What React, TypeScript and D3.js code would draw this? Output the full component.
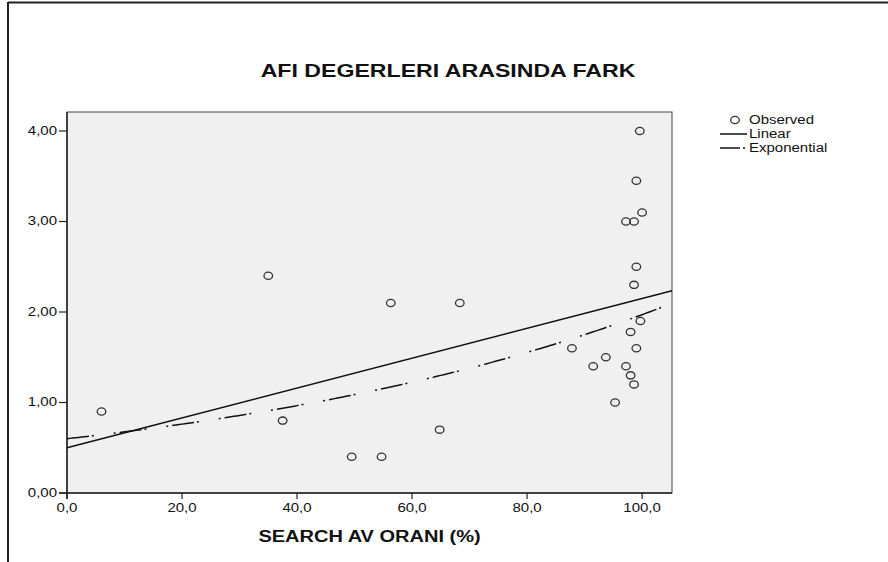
import React, { useEffect, useRef } from "react";
import * as d3 from "d3";

// values
const searchAv = [6.0, 35.0, 37.5, 49.5, 54.7, 56.3, 64.8, 68.3, 87.8, 91.5, 93.7, 95.3, 97.2, 97.2, 98.0, 98.0, 98.6, 98.6, 98.6, 99.0, 99.0, 99.0, 99.6, 99.7, 100.0];
const afiFark = [0.9, 2.4, 0.8, 0.4, 0.4, 2.1, 0.7, 2.1, 1.6, 1.4, 1.5, 1.0, 3.0, 1.4, 1.78, 1.3, 3.0, 2.3, 1.2, 3.45, 2.5, 1.6, 4.0, 1.9, 3.1];
const xTicks = [0, 20, 40, 60, 80, 100];
const yTicks = [0, 1, 2, 3, 4];
const legendLabels = ["Observed", "Linear", "Exponential"];

// fitted curve coefficients
const linearFit = { a: 0.5, b: 0.0165 };
const expFit = { a: 0.6, b: 0.01189 };

const fmt = (d: number, n: number) => d.toFixed(n).replace(".", ",");
const SX = 1.25; // text in the source is stretched horizontally

const App = () => {
  const ref = useRef<SVGSVGElement>(null);

  useEffect(() => {
    const svg = d3.select(ref.current);
    svg.selectAll("*").remove();

    const left = 67, right = 672, top = 112, bottom = 493;
    const x = d3.scaleLinear().domain([0, 105.2]).range([left, right]);
    const y = d3.scaleLinear().domain([0, 4.21]).range([bottom, top]);

    const font = "'Liberation Sans', Arial, sans-serif";
    const text = (g: any, tx: number, ty: number, s: string, size: number, anchor: string, bold = false) =>
      g.append("text")
        .attr("transform", `translate(${tx},${ty}) scale(${SX},1)`)
        .attr("text-anchor", anchor)
        .attr("dominant-baseline", "central")
        .attr("font-family", font)
        .attr("font-size", size)
        .attr("font-weight", bold ? "bold" : "normal")
        .attr("fill", "#111")
        .text(s);

    // outer frame
    svg.append("line").attr("x1", 8).attr("x2", 8).attr("y1", 2).attr("y2", 562)
      .attr("stroke", "#222").attr("stroke-width", 2);
    svg.append("line").attr("x1", 8).attr("x2", 888).attr("y1", 2.5).attr("y2", 2.5)
      .attr("stroke", "#222").attr("stroke-width", 2);

    // plot area
    svg.append("rect")
      .attr("x", left).attr("y", top)
      .attr("width", right - left).attr("height", bottom - top)
      .attr("fill", "#f0f0f0").attr("stroke", "#444").attr("stroke-width", 1);

    // title
    text(svg, 448, 70, "AFI DEGERLERI ARASINDA FARK", 18.5, "middle", true);

    // axes
    svg.append("line").attr("x1", left).attr("x2", left).attr("y1", top).attr("y2", bottom + 6)
      .attr("stroke", "#222").attr("stroke-width", 1.5);
    svg.append("line").attr("x1", left - 8).attr("x2", right).attr("y1", bottom).attr("y2", bottom)
      .attr("stroke", "#222").attr("stroke-width", 1.5);

    yTicks.forEach((t) => {
      svg.append("line").attr("x1", left - 8).attr("x2", left).attr("y1", y(t)).attr("y2", y(t))
        .attr("stroke", "#222").attr("stroke-width", 1.2);
      text(svg, left - 10, y(t), fmt(t, 2), 12, "end");
    });
    xTicks.forEach((t) => {
      svg.append("line").attr("x1", x(t)).attr("x2", x(t)).attr("y1", bottom).attr("y2", bottom + 6)
        .attr("stroke", "#222").attr("stroke-width", 1.2);
      text(svg, x(t), bottom + 15, fmt(t, 1), 12, "middle");
    });

    text(svg, (left + right) / 2, 537, "SEARCH AV ORANI (%)", 16, "middle", true);

    // fit lines
    const plot = svg.append("g");
    const xs = d3.range(0, 105.21, 0.5);
    const line = d3.line<number>().x((d) => x(d));
    plot.append("path")
      .datum([0, 105.2])
      .attr("d", line.y((d) => y(linearFit.a + linearFit.b * d)))
      .attr("fill", "none").attr("stroke", "#111").attr("stroke-width", 1.5);
    plot.append("path")
      .datum(xs)
      .attr("d", line.y((d) => y(expFit.a * Math.exp(expFit.b * d))))
      .attr("fill", "none").attr("stroke", "#111").attr("stroke-width", 1.5)
      .attr("stroke-dasharray", "22,3,2,20,2,4");

    // observed points
    plot.selectAll("ellipse.pt")
      .data(searchAv.map((v, i) => [v, afiFark[i]]))
      .join("ellipse")
      .attr("class", "pt")
      .attr("cx", (d) => x(d[0]))
      .attr("cy", (d) => y(d[1]))
      .attr("rx", 4.3).attr("ry", 3.6)
      .attr("fill", "none").attr("stroke", "#333").attr("stroke-width", 1.3);

    // legend
    const lg = svg.append("g");
    const ly = [120, 134, 148];
    lg.append("ellipse").attr("cx", 735).attr("cy", ly[0]).attr("rx", 4.3).attr("ry", 3.6)
      .attr("fill", "none").attr("stroke", "#333").attr("stroke-width", 1.3);
    lg.append("line").attr("x1", 720).attr("x2", 747).attr("y1", ly[1]).attr("y2", ly[1])
      .attr("stroke", "#111").attr("stroke-width", 1.5);
    lg.append("line").attr("x1", 720).attr("x2", 747).attr("y1", ly[2]).attr("y2", ly[2])
      .attr("stroke", "#111").attr("stroke-width", 1.5).attr("stroke-dasharray", "20,3,2,20");
    legendLabels.forEach((l, i) => text(lg, 749, ly[i], l, 12, "start"));
  }, []);

  return (
    <svg
      ref={ref}
      width={888}
      height={562}
      viewBox="0 0 888 562"
      style={{ position: "absolute", left: 0, top: 0, background: "#fff" }}
    />
  );
};

export default App;
